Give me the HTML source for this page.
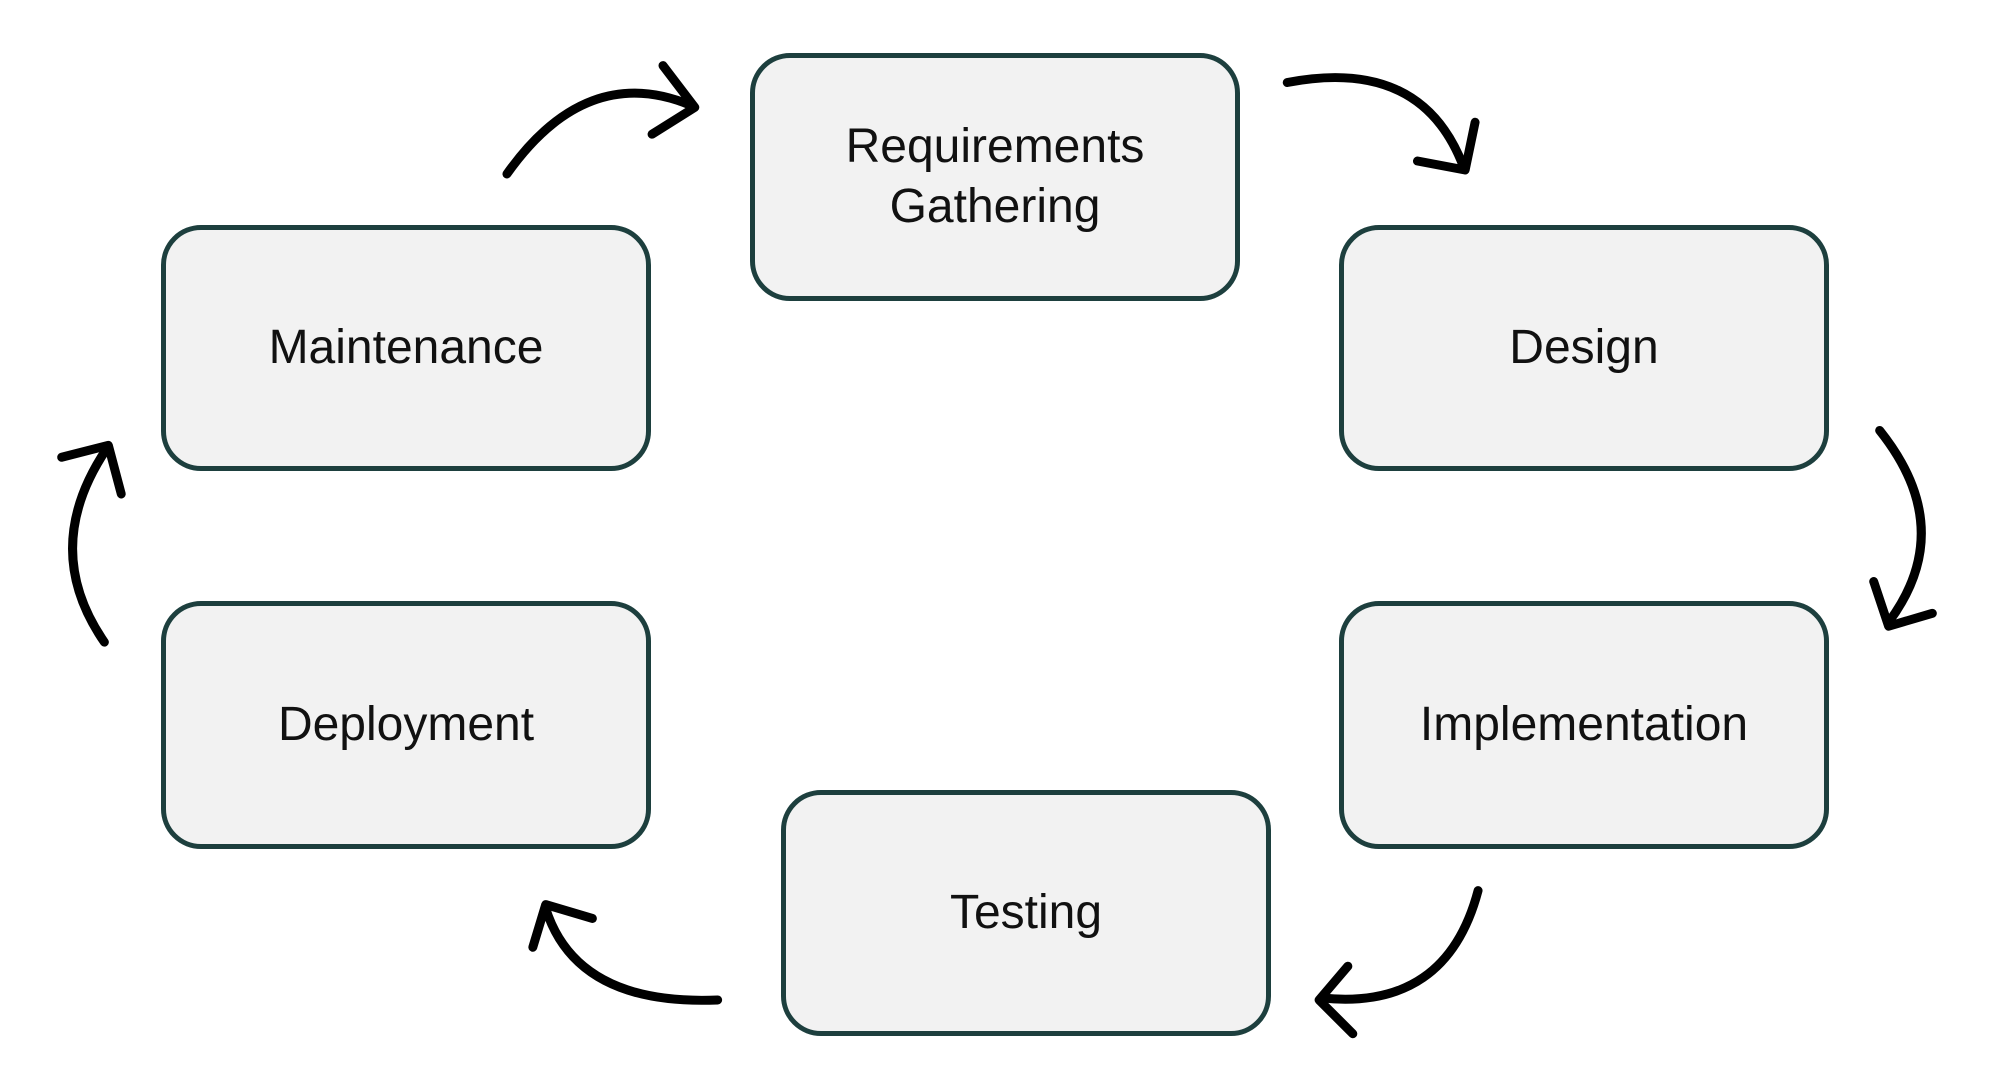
<!DOCTYPE html>
<html><head><meta charset="utf-8"><style>
html,body{margin:0;padding:0;background:#fff;}
.wrap{position:relative;width:2000px;height:1068px;overflow:hidden;}
.box{position:absolute;box-sizing:border-box;border:5px solid #1d3f3e;border-radius:40px;background:#f2f2f2;display:flex;align-items:center;justify-content:center;text-align:center;font-family:"Liberation Sans",sans-serif;font-size:48px;color:#111;line-height:60px;}
svg{position:absolute;left:0;top:0;}
</style></head><body><div class="wrap">
<div class="box" style="left:750px;top:53px;width:490px;height:248px;">Requirements<br>Gathering</div>
<div class="box" style="left:1339px;top:225px;width:490px;height:246px;">Design</div>
<div class="box" style="left:161px;top:225px;width:490px;height:246px;">Maintenance</div>
<div class="box" style="left:161px;top:601px;width:490px;height:248px;">Deployment</div>
<div class="box" style="left:1339px;top:601px;width:490px;height:248px;">Implementation</div>
<div class="box" style="left:781px;top:790px;width:490px;height:246px;">Testing</div>
<svg width="2000" height="1068" viewBox="0 0 2000 1068" fill="none" stroke="#000" stroke-width="9" stroke-linecap="round" stroke-linejoin="round">
<g transform="translate(0,2) scale(0.994)">
<path d="M510 173 Q590 60 695 104"/><path d="M667 64 L699 106 L656 133"/>
<path d="M1295 81 Q1430 55 1472 165"/><path d="M1426 160 L1474 169 L1484 121"/>
<path d="M1891 431 Q1970 530 1900 624"/><path d="M1885 583 L1900 628 L1944 615"/>
<path d="M1487 894 Q1455 1015 1330 1002"/><path d="M1356 970 L1327 1004 L1361 1038"/>
<path d="M722 1004 Q580 1010 549 912"/><path d="M536 951 L549 908 L596 922"/>
<path d="M105 644 Q40 550 107 450"/><path d="M62 458 L109 446 L122 495"/>
</g>
</svg>
</div></body></html>
